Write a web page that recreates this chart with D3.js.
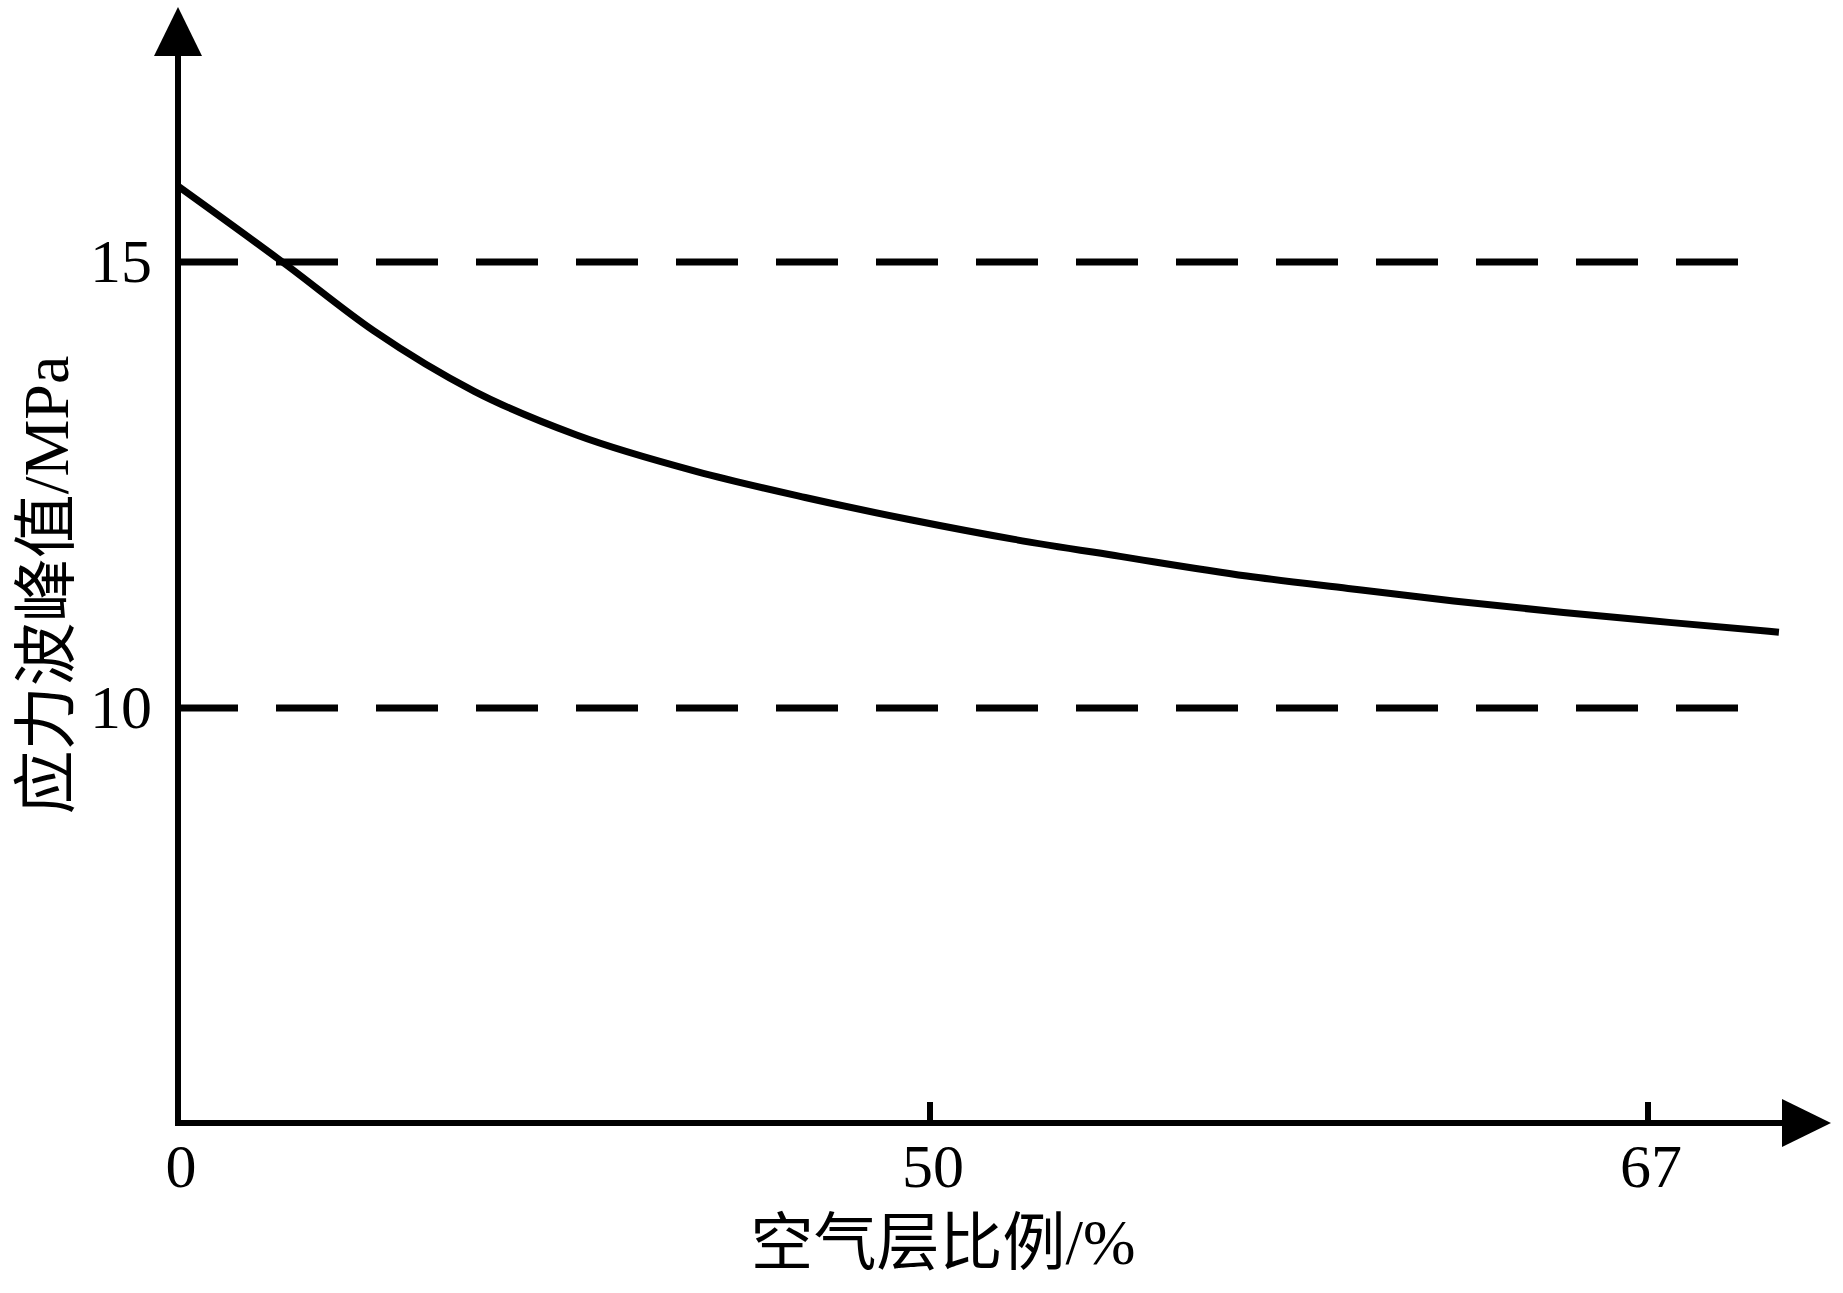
<!DOCTYPE html>
<html>
<head>
<meta charset="utf-8">
<script src="https://cdn.jsdelivr.net/npm/d3@7.9.0/dist/d3.min.js"></script>
<style>
  html, body { margin: 0; padding: 0; background: #fff; }
  svg { display: block; }
  text { font-family: "Liberation Serif", "Noto Sans CJK SC", serif; fill: #000; }
</style>
</head>
<body>
<svg id="chart" width="1843" height="1293"></svg>
<script>
// ---- data ----
const airRatio = [0, 7.1, 13.0, 19.7, 26.5, 34.5, 41.7, 48.7, 52.0, 54.5, 57.5, 59.9, 62.4, 65.0, 67.5, 70.1];
const peakStress = [15.85, 14.98, 14.23, 13.55, 13.06, 12.65, 12.36, 12.11, 11.89, 11.70, 11.48, 11.34, 11.20, 11.07, 10.96, 10.85];

const xTicks = [0, 50, 67];        // axis is not evenly spaced in the original
const yTicks = [15, 10];           // shown as dashed reference lines
const refLineEnd = 69.2;           // where the dashed lines stop (x units)

const xTitle = '空气层比例/%';
const yTitle = '应力波峰值/MPa';

// ---- layout ----
const svg = d3.select('#chart');
const originX = 178, originY = 1123;

// piecewise x scale so the 50 / 67 ticks land where they are drawn
const x = d3.scaleLinear()
  .domain(xTicks)
  .range([originX, 930, 1648]);

const y = d3.scaleLinear()
  .domain([10, 15])
  .range([708, 262]);

// dashed reference lines
svg.selectAll('line.ref')
  .data(yTicks)
  .join('line')
  .attr('class', 'ref')
  .attr('x1', originX - 2)
  .attr('x2', x(refLineEnd))
  .attr('y1', d => y(d))
  .attr('y2', d => y(d))
  .attr('stroke', '#000')
  .attr('stroke-width', 7)
  .attr('stroke-dasharray', '62,38');

// y tick labels
svg.selectAll('text.ytick')
  .data(yTicks)
  .join('text')
  .attr('class', 'ytick')
  .attr('x', 152)
  .attr('y', d => y(d) + 20)
  .attr('text-anchor', 'end')
  .attr('font-size', 62)
  .text(d => d);

// x ticks (pointing up into the plot), skip the origin
svg.selectAll('line.xtick')
  .data(xTicks.filter(d => d !== 0))
  .join('line')
  .attr('class', 'xtick')
  .attr('x1', d => x(d))
  .attr('x2', d => x(d))
  .attr('y1', originY)
  .attr('y2', originY - 21)
  .attr('stroke', '#000')
  .attr('stroke-width', 6);

svg.selectAll('text.xtick')
  .data(xTicks)
  .join('text')
  .attr('class', 'xtick')
  .attr('x', d => x(d) + 3)
  .attr('y', 1187)
  .attr('text-anchor', 'middle')
  .attr('font-size', 62)
  .text(d => d);

// axes with arrow heads
svg.append('line')
  .attr('x1', originX).attr('x2', originX)
  .attr('y1', originY + 3).attr('y2', 54)
  .attr('stroke', '#000').attr('stroke-width', 6);
svg.append('line')
  .attr('x1', originX - 3).attr('x2', 1784)
  .attr('y1', originY).attr('y2', originY)
  .attr('stroke', '#000').attr('stroke-width', 6);

svg.append('path')
  .attr('d', `M${originX},7 L${originX - 24},56 L${originX + 24},56 Z`)
  .attr('fill', '#000');
svg.append('path')
  .attr('d', `M1831,${originY} L1782,${originY - 24} L1782,${originY + 24} Z`)
  .attr('fill', '#000');

// the curve
const line = d3.line()
  .x(d => x(d[0]))
  .y(d => y(d[1]))
  .curve(d3.curveMonotoneX);

svg.append('path')
  .datum(d3.zip(airRatio, peakStress))
  .attr('d', line)
  .attr('fill', 'none')
  .attr('stroke', '#000')
  .attr('stroke-width', 7)
  .attr('stroke-linecap', 'butt');

// axis titles
svg.append('text')
  .attr('x', 943)
  .attr('y', 1264)
  .attr('text-anchor', 'middle')
  .attr('font-size', 63)
  .text(xTitle);

svg.append('text')
  .attr('transform', 'translate(68,585) rotate(-90)')
  .attr('text-anchor', 'middle')
  .attr('font-size', 64)
  .text(yTitle);
</script>
</body>
</html>
